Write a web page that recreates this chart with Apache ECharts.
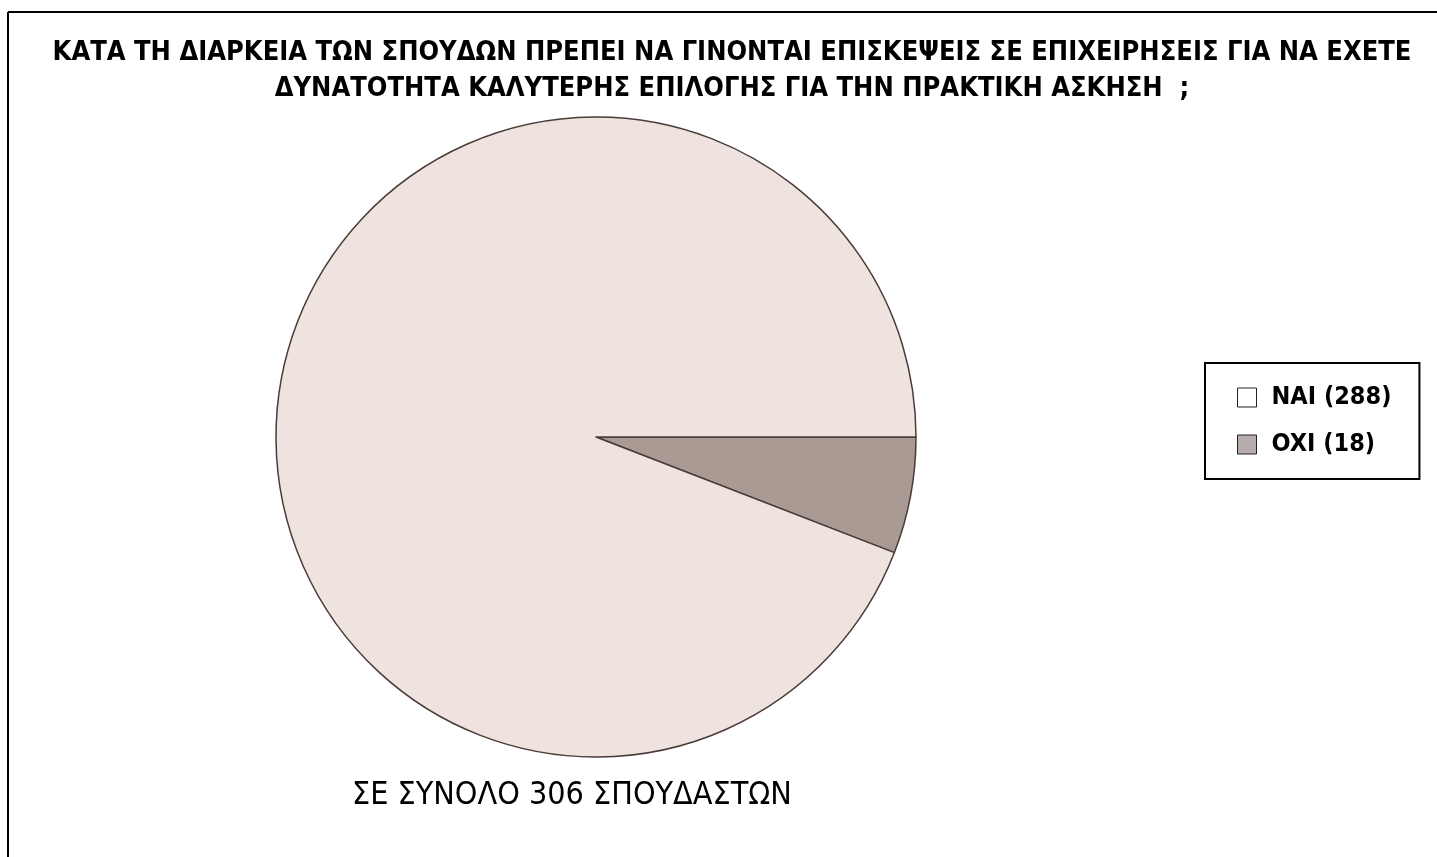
<!DOCTYPE html>
<html>
<head>
<meta charset="utf-8">
<script src="https://cdn.jsdelivr.net/npm/echarts@6/dist/echarts.min.js"></script>
<style>
  html, body { margin: 0; padding: 0; background: #fff; }
  #chart { width: 1437px; height: 857px; }
</style>
</head>
<body>
<div id="chart"></div>
<script>
// categories and values
var names = ['OXI', 'NAI'];
var counts = [18, 288];
var legendOrder = ['NAI', 'OXI'];
var titleText = 'ΚΑΤΑ ΤΗ ΔΙΑΡΚΕΙΑ ΤΩΝ ΣΠΟΥΔΩΝ ΠΡΕΠΕΙ ΝΑ ΓΙΝΟΝΤΑΙ ΕΠΙΣΚΕΨΕΙΣ ΣΕ ΕΠΙΧΕΙΡΗΣΕΙΣ ΓΙΑ ΝΑ ΕΧΕΤΕ\nΔΥΝΑΤΟΤΗΤΑ ΚΑΛΥΤΕΡΗΣ ΕΠΙΛΟΓΗΣ ΓΙΑ ΤΗΝ ΠΡΑΚΤΙΚΗ ΑΣΚΗΣΗ  ;';
var footText = 'ΣΕ ΣΥΝΟΛΟ 306 ΣΠΟΥΔΑΣΤΩΝ';

var fillColors = { NAI: '#efe3df', OXI: '#a99b94' };
var iconColors = { NAI: '#ffffff', OXI: '#b5acab' };
var font = '"Liberation Sans Narrow", "DejaVu Sans Condensed", "Liberation Sans", sans-serif';

var myChart = echarts.init(document.getElementById('chart'));

var pieData = names.map(function (n, i) {
  return {
    name: n,
    value: counts[i],
    itemStyle: { color: fillColors[n] }
  };
});

myChart.setOption({
  backgroundColor: '#ffffff',
  animation: false,
  title: {
    text: titleText,
    left: 727,
    top: 30,
    textAlign: 'center',
    textStyle: {
      fontFamily: font,
      fontSize: 27,
      fontWeight: 'bold',
      color: '#000',
      lineHeight: 36
    }
  },
  legend: {
    orient: 'vertical',
    left: 1205,
    top: 363,
    data: legendOrder.map(function (n) {
      return {
        name: n,
        itemStyle: { color: iconColors[n], borderColor: '#222', borderWidth: 1 }
      };
    }),
    formatter: function (name) {
      return name + ' (' + counts[names.indexOf(name)] + ')';
    },
    padding: [22, 28, 22, 32],
    itemGap: 22,
    itemWidth: 19,
    itemHeight: 19,
    icon: 'rect',
    borderColor: '#000',
    borderWidth: 2,
    backgroundColor: '#fff',
    textStyle: {
      fontFamily: font,
      fontSize: 25,
      fontWeight: 'bold',
      color: '#000',
      padding: [0, 0, 0, 10]
    }
  },
  graphic: [
    {
      type: 'line',
      shape: { x1: 8, y1: 12, x2: 1437, y2: 12 },
      style: { stroke: '#000', lineWidth: 2 }
    },
    {
      type: 'line',
      shape: { x1: 8, y1: 12, x2: 8, y2: 857 },
      style: { stroke: '#000', lineWidth: 2 }
    },
    {
      type: 'text',
      left: 352,
      top: 780,
      style: {
        text: footText,
        fontFamily: font,
        fontSize: 32,
        fill: '#000'
      }
    }
  ],
  series: [
    {
      type: 'pie',
      center: [596, 437],
      radius: 320,
      startAngle: 0,
      clockwise: true,
      label: { show: false },
      labelLine: { show: false },
      emphasis: { disabled: true },
      itemStyle: { borderColor: '#4a3a38', borderWidth: 1.5 },
      data: pieData
    }
  ]
});
</script>
</body>
</html>
